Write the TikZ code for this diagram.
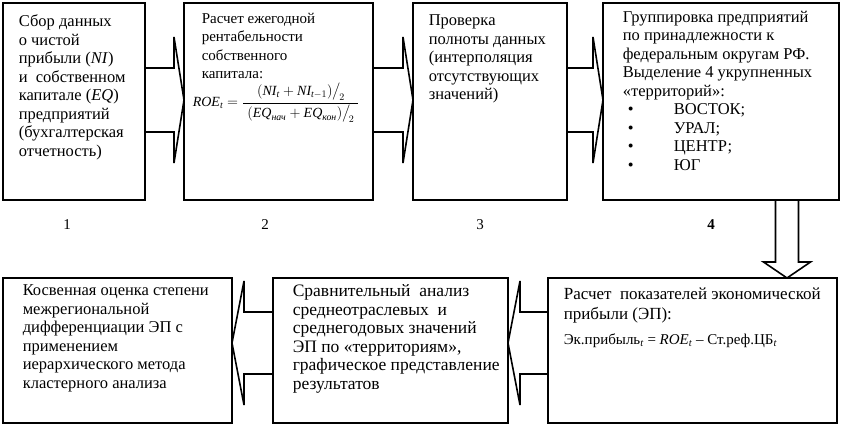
\documentclass[tikz,border=0pt]{standalone}
\usepackage{amsmath}
\usepackage{fontspec}
\setmainfont{Liberation Serif}
\usetikzlibrary{calc}

\newcommand\myrarrow[2]{%
  \coordinate (tt) at (#2.west |- 0,100);
  \coordinate (ss) at (#1.east |- 0,100);
  \draw[blk] ($(ss)+(0,-32)$) -- ($(tt)+(-10,-32)$) -- ($(tt)+(-10,-63)$) -- (tt)
    -- ($(tt)+(-10,63)$) -- ($(tt)+(-10,32)$) -- ($(ss)+(0,32)$);}
\newcommand\mylarrow[2]{%
  \coordinate (tt) at (#2.east |- 0,343);
  \coordinate (ss) at (#1.west |- 0,343);
  \draw[blk] ($(ss)+(0,-31)$) -- ($(tt)+(12,-31)$) -- ($(tt)+(12,-62)$) -- (tt)
    -- ($(tt)+(12,62)$) -- ($(tt)+(12,31)$) -- ($(ss)+(0,31)$);}

\begin{document}
\begin{tikzpicture}[x=1pt,y=-1pt,line width=1.6pt,
  box/.style={draw, rectangle, inner sep=0pt, outer sep=0pt},
  txt/.style={anchor=north west, inner sep=0pt, align=left, font=\rmfamily\fontsize{16.5}{18.5}\selectfont},
  frm/.style={anchor=west, inner sep=0pt, font=\rmfamily\fontsize{14}{16}\selectfont},
  num/.style={inner sep=0pt, font=\rmfamily\fontsize{15}{18}\selectfont},
  blk/.style={line width=1.6pt, line join=miter}]
\useasboundingbox (0,0) rectangle (841,425);

% top row boxes
\node[box, minimum width=142pt, minimum height=197pt] (b1) at (74,101.5) {};
\node[box, minimum width=189pt, minimum height=197pt] (b2) at (278.5,101.5) {};
\node[box, minimum width=154pt, minimum height=197pt] (b3) at (490,101.5) {};
\node[box, minimum width=236pt, minimum height=197pt] (b4) at (721,101.5) {};
% bottom row boxes
\node[box, minimum width=289pt, minimum height=145pt] (b5) at (692.5,350.5) {};
\node[box, minimum width=235pt, minimum height=145pt] (b6) at (390.5,350.5) {};
\node[box, minimum width=229pt, minimum height=145pt] (b7) at (117.5,350.5) {};

% block arrows
\myrarrow{b1}{b2}
\myrarrow{b2}{b3}
\myrarrow{b3}{b4}
\mylarrow{b5}{b6}
\mylarrow{b6}{b7}
\coordinate (ds) at (787,0 |- b4.south);
\coordinate (dt) at (787,0 |- b5.north);
\draw[blk] ($(ds)+(-11.5,0)$) -- ($(dt)+(-11.5,-16)$) -- ($(dt)+(-23.5,-16)$) -- (dt)
  -- ($(dt)+(23.5,-16)$) -- ($(dt)+(11.5,-16)$) -- ($(ds)+(11.5,0)$);

% texts
\node[txt] (t1) at (18,14) {Сбор данных\\о чистой\\прибыли (\textit{NI})\\и \ собственном\\капитале (\textit{EQ})\\предприятий\\(бухгалтерская\\отчетность)};
\node[txt, font=\rmfamily\fontsize{15}{18.5}\selectfont] (t2) at (201,12) {Расчет ежегодной\\рентабельности\\собственного\\капитала:};
\node[frm] (f2) at (192,103) {$\mathit{ROE}_{\mathit{t}} = \dfrac{(\mathit{NI}_{\mathit{t}} + \mathit{NI}_{\mathit{t}-1}){\big/}_{\!2}}{\;(\mathit{EQ}_{\text{\itshape нач}} + \mathit{EQ}_{\text{\itshape кон}}){\big/}_{\!2}\;}$};
\node[txt] (t3) at (428,14) {Проверка\\полноты данных\\(интерполяция\\отсутствующих\\значений)};
\node[txt] (t4) at (622,10) {Группировка предприятий\\по принадлежности к\\федеральным округам РФ.\\Выделение 4 укрупненных\\«территорий»:\\
\hspace*{5pt}\makebox[46pt][l]{\textbullet}ВОСТОК;\\
\hspace*{5pt}\makebox[46pt][l]{\textbullet}УРАЛ;\\
\hspace*{5pt}\makebox[46pt][l]{\textbullet}ЦЕНТР;\\
\hspace*{5pt}\makebox[46pt][l]{\textbullet}ЮГ};

\node[num] (n1) at (67,225) {1};
\node[num] (n2) at (265,225) {2};
\node[num] (n3) at (480,225) {3};
\node[num] (n4) at (711,225) {\bfseries 4};

\node[txt, font=\rmfamily\fontsize{17}{20}\selectfont] (t5) at (563,287) {Расчет \ показателей экономической\\прибыли (ЭП):};
\node[frm, font=\rmfamily\fontsize{15}{17}\selectfont] (f5) at (563,341) {Эк.прибыль$_{\mathit{t}}$ = \textit{ROE}$_{\mathit{t}}$ -- Ст.реф.ЦБ$_{\mathit{t}}$};
\node[txt, font=\rmfamily\fontsize{17.5}{18.5}\selectfont] (t6) at (292,284) {Сравнительный \ анализ\\среднеотраслевых \ и\\среднегодовых значений\\ЭП по «территориям»,\\графическое представление\\результатов};
\node[txt] (t7) at (22,284) {Косвенная оценка степени\\межрегиональной\\дифференциации ЭП с\\применением\\иерархического метода\\кластерного анализа};
\end{tikzpicture}
\end{document}
